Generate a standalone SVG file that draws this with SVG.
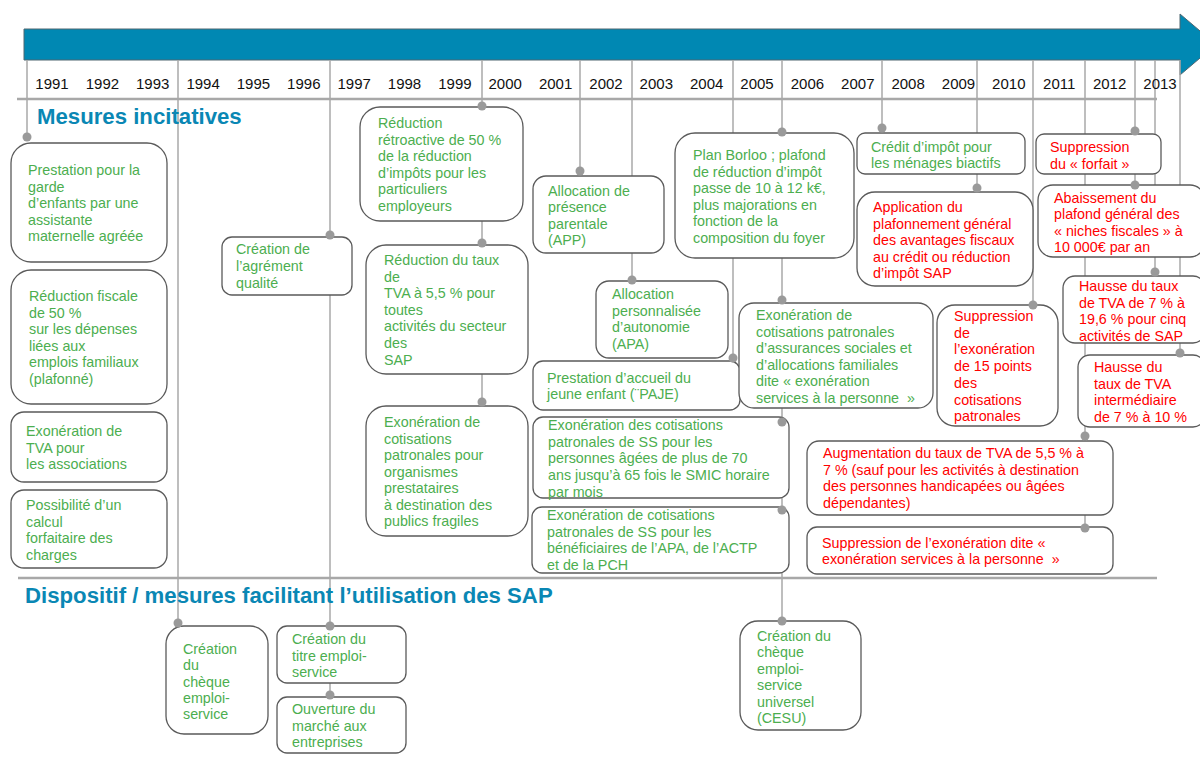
<svg xmlns="http://www.w3.org/2000/svg" width="1200" height="771" viewBox="0 0 1200 771">
<style>
.box{fill:#fff;stroke:#5a5a5a;stroke-width:1.3}
.t{font-family:"Liberation Sans",Arial,sans-serif;font-size:14.3px}
.g{fill:#4cae4f}
.r{fill:#ff0000}
.conn{stroke:#a8a8a8;stroke-width:1.5;fill:none}
.sep{stroke:#a8a8a8;stroke-width:2.5;fill:none}
.dot{fill:#9a9a9a}
.yr{font-family:"Liberation Sans",Arial,sans-serif;font-size:15px;fill:#111;text-anchor:middle}
.hd{font-family:"Liberation Sans",Arial,sans-serif;font-size:22.2px;font-weight:bold;fill:#0a87b4}
</style>
<rect width="1200" height="771" fill="#fff"/>
<g id="timeline-arrow">
<polygon points="24,29 1180,29 1180,14 1216,44.5 1180,75 1180,60 24,60" fill="#0088b3" stroke="#4f6670" stroke-width="1"/>
</g>
<g id="connectors">
<line class="conn" x1="27" y1="60" x2="27" y2="137"/>
<line class="conn" x1="178" y1="60" x2="178" y2="623"/>
<line class="conn" x1="330" y1="60" x2="330" y2="695"/>
<line class="conn" x1="482" y1="60" x2="482" y2="402"/>
<line class="conn" x1="580" y1="60" x2="580" y2="171"/>
<line class="conn" x1="632" y1="60" x2="632" y2="280"/>
<line class="conn" x1="733" y1="60" x2="733" y2="358"/>
<line class="conn" x1="782" y1="60" x2="782" y2="621"/>
<line class="conn" x1="882" y1="60" x2="882" y2="128"/>
<line class="conn" x1="977" y1="60" x2="977" y2="188"/>
<line class="conn" x1="1033" y1="60" x2="1033" y2="305"/>
<line class="conn" x1="1085" y1="60" x2="1085" y2="528"/>
<line class="conn" x1="1135" y1="60" x2="1135" y2="185"/>
<line class="conn" x1="1155" y1="60" x2="1155" y2="272"/>
<line class="conn" x1="1180" y1="60" x2="1180" y2="353"/>
<line class="sep" x1="17" y1="99" x2="1157" y2="99"/>
<line class="sep" x1="18" y1="578" x2="1157" y2="578"/>
</g>
<g id="years">
<text class="yr" x="52" y="89">1991</text>
<text class="yr" x="102.4" y="89">1992</text>
<text class="yr" x="152.7" y="89">1993</text>
<text class="yr" x="203.1" y="89">1994</text>
<text class="yr" x="253.4" y="89">1995</text>
<text class="yr" x="303.8" y="89">1996</text>
<text class="yr" x="354.2" y="89">1997</text>
<text class="yr" x="404.5" y="89">1998</text>
<text class="yr" x="454.9" y="89">1999</text>
<text class="yr" x="505.2" y="89">2000</text>
<text class="yr" x="555.6" y="89">2001</text>
<text class="yr" x="606" y="89">2002</text>
<text class="yr" x="656.3" y="89">2003</text>
<text class="yr" x="706.7" y="89">2004</text>
<text class="yr" x="757" y="89">2005</text>
<text class="yr" x="807.4" y="89">2006</text>
<text class="yr" x="857.8" y="89">2007</text>
<text class="yr" x="908.1" y="89">2008</text>
<text class="yr" x="958.5" y="89">2009</text>
<text class="yr" x="1008.8" y="89">2010</text>
<text class="yr" x="1059.2" y="89">2011</text>
<text class="yr" x="1109.6" y="89">2012</text>
<text class="yr" x="1160" y="89">2013</text>
</g>
<g id="headings">
<text class="hd" x="37" y="124">Mesures incitatives</text>
<text class="hd" x="25" y="603">Dispositif / mesures facilitant l’utilisation des SAP</text>
</g>
<g id="n-prestation-garde"><rect class="box" x="11" y="143" width="156" height="119" rx="20"/>
<text class="t g" y="175"><tspan x="28">Prestation pour la</tspan><tspan x="28" dy="16.5">garde</tspan><tspan x="28" dy="16.5">d’enfants par une</tspan><tspan x="28" dy="16.5">assistante</tspan><tspan x="28" dy="16.5">maternelle agréée</tspan></text></g>
<g id="n-reduction-fiscale"><rect class="box" x="11" y="270" width="156" height="134" rx="20"/>
<text class="t g" y="301"><tspan x="29">Réduction fiscale</tspan><tspan x="29" dy="16.6">de 50 %</tspan><tspan x="29" dy="16.6">sur les dépenses</tspan><tspan x="29" dy="16.6">liées aux</tspan><tspan x="29" dy="16.6">emplois familiaux</tspan><tspan x="29" dy="16.6">(plafonné)</tspan></text></g>
<g id="n-exo-tva-assoc"><rect class="box" x="11" y="412" width="156" height="70" rx="13"/>
<text class="t g" y="436"><tspan x="26">Exonération de</tspan><tspan x="26" dy="16.6">TVA pour</tspan><tspan x="26" dy="16.6">les associations</tspan></text></g>
<g id="n-forfait-charges"><rect class="box" x="11" y="490" width="156" height="78" rx="13"/>
<text class="t g" y="510"><tspan x="26">Possibilité d’un</tspan><tspan x="26" dy="16.5">calcul</tspan><tspan x="26" dy="16.5">forfaitaire des</tspan><tspan x="26" dy="16.5">charges</tspan></text></g>
<g id="n-agrement"><rect class="box" x="222" y="237" width="130" height="58" rx="10"/>
<text class="t g" y="254"><tspan x="236">Création de</tspan><tspan x="236" dy="17">l’agrément</tspan><tspan x="236" dy="17">qualité</tspan></text></g>
<g id="n-reduc-retro"><rect class="box" x="360" y="107" width="163" height="114" rx="20"/>
<text class="t g" y="128"><tspan x="378">Réduction</tspan><tspan x="378" dy="16.5">rétroactive de 50 %</tspan><tspan x="378" dy="16.5">de la réduction</tspan><tspan x="378" dy="16.5">d’impôts pour les</tspan><tspan x="378" dy="16.5">particuliers</tspan><tspan x="378" dy="16.5">employeurs</tspan></text></g>
<g id="n-reduc-tva"><rect class="box" x="366" y="245" width="162" height="129" rx="20"/>
<text class="t g" y="265"><tspan x="384">Réduction du taux</tspan><tspan x="384" dy="16.6">de</tspan><tspan x="384" dy="16.6">TVA à 5,5 % pour</tspan><tspan x="384" dy="16.6">toutes</tspan><tspan x="384" dy="16.6">activités du secteur</tspan><tspan x="384" dy="16.6">des</tspan><tspan x="384" dy="16.6">SAP</tspan></text></g>
<g id="n-exo-organismes"><rect class="box" x="366" y="406" width="162" height="130" rx="20"/>
<text class="t g" y="427"><tspan x="384">Exonération de</tspan><tspan x="384" dy="16.5">cotisations</tspan><tspan x="384" dy="16.5">patronales pour</tspan><tspan x="384" dy="16.5">organismes</tspan><tspan x="384" dy="16.5">prestataires</tspan><tspan x="384" dy="16.5">à destination des</tspan><tspan x="384" dy="16.5">publics fragiles</tspan></text></g>
<g id="n-app"><rect class="box" x="533" y="176" width="131" height="77" rx="13"/>
<text class="t g" y="196"><tspan x="548">Allocation de</tspan><tspan x="548" dy="16.4">présence</tspan><tspan x="548" dy="16.4">parentale</tspan><tspan x="548" dy="16.4">(APP)</tspan></text></g>
<g id="n-apa"><rect class="box" x="596" y="281" width="132" height="77" rx="13"/>
<text class="t g" y="299"><tspan x="612">Allocation</tspan><tspan x="612" dy="16.6">personnalisée</tspan><tspan x="612" dy="16.6">d’autonomie</tspan><tspan x="612" dy="16.6">(APA)</tspan></text></g>
<g id="n-paje"><rect class="box" x="533" y="361" width="207" height="49" rx="10"/>
<text class="t g" y="383"><tspan x="547">Prestation d’accueil du</tspan><tspan x="547" dy="16">jeune enfant (¨PAJE)</tspan></text></g>
<g id="n-exo-agees"><rect class="box" x="533" y="417" width="256" height="81" rx="10"/>
<text class="t g" y="430"><tspan x="548">Exonération des cotisations</tspan><tspan x="548" dy="16.7">patronales de SS pour les</tspan><tspan x="548" dy="16.7">personnes âgées de plus de 70</tspan><tspan x="548" dy="16.7">ans jusqu’à 65 fois le SMIC horaire</tspan><tspan x="548" dy="16.7">par mois</tspan></text></g>
<g id="n-exo-apa"><rect class="box" x="532" y="507" width="257" height="66" rx="10"/>
<text class="t g" y="520"><tspan x="547">Exonération de cotisations</tspan><tspan x="547" dy="16.7">patronales de SS pour les</tspan><tspan x="547" dy="16.7">bénéficiaires de l’APA, de l’ACTP</tspan><tspan x="547" dy="16.7">et de la PCH</tspan></text></g>
<g id="n-borloo"><rect class="box" x="675" y="133" width="179" height="125" rx="20"/>
<text class="t g" y="160"><tspan x="693">Plan Borloo ; plafond</tspan><tspan x="693" dy="16.5">de réduction d’impôt</tspan><tspan x="693" dy="16.5">passe de 10 à 12 k€,</tspan><tspan x="693" dy="16.5">plus majorations en</tspan><tspan x="693" dy="16.5">fonction de la</tspan><tspan x="693" dy="16.5">composition du foyer</tspan></text></g>
<g id="n-exo-sap"><rect class="box" x="739" y="303" width="194" height="105" rx="15"/>
<text class="t g" y="320"><tspan x="756">Exonération de</tspan><tspan x="756" dy="16.5">cotisations patronales</tspan><tspan x="756" dy="16.5">d’assurances sociales et</tspan><tspan x="756" dy="16.5">d’allocations familiales</tspan><tspan x="756" dy="16.5">dite « exonération</tspan><tspan x="756" dy="16.5">services à la personne&#160; »</tspan></text></g>
<g id="n-credit-biactifs"><rect class="box" x="857" y="133" width="168" height="41" rx="8"/>
<text class="t g" y="152"><tspan x="871">Crédit d’impôt pour</tspan><tspan x="871" dy="15.6">les ménages biactifs</tspan></text></g>
<g id="n-plafonnement"><rect class="box" x="857" y="192" width="176" height="94" rx="18"/>
<text class="t r" y="212"><tspan x="873">Application du</tspan><tspan x="873" dy="16.6">plafonnement général</tspan><tspan x="873" dy="16.6">des avantages fiscaux</tspan><tspan x="873" dy="16.6">au crédit ou réduction</tspan><tspan x="873" dy="16.6">d’impôt SAP</tspan></text></g>
<g id="n-suppr-15pts"><rect class="box" x="937" y="305" width="121" height="121" rx="18"/>
<text class="t r" y="321"><tspan x="954">Suppression</tspan><tspan x="954" dy="16.7">de</tspan><tspan x="954" dy="16.7">l’exonération</tspan><tspan x="954" dy="16.7">de 15 points</tspan><tspan x="954" dy="16.7">des</tspan><tspan x="954" dy="16.7">cotisations</tspan><tspan x="954" dy="16.7">patronales</tspan></text></g>
<g id="n-suppr-forfait"><rect class="box" x="1036" y="134" width="125" height="40" rx="8"/>
<text class="t r" y="152"><tspan x="1050">Suppression</tspan><tspan x="1050" dy="16.6">du « forfait »</tspan></text></g>
<g id="n-abaissement"><rect class="box" x="1038" y="185" width="167" height="72" rx="15"/>
<text class="t r" y="203"><tspan x="1054">Abaissement du</tspan><tspan x="1054" dy="16.3">plafond général des</tspan><tspan x="1054" dy="16.3">« niches fiscales » à</tspan><tspan x="1054" dy="16.3">10 000€ par an</tspan></text></g>
<g id="n-hausse-196"><rect class="box" x="1063" y="276" width="142" height="67" rx="12"/>
<text class="t r" y="291"><tspan x="1079">Hausse du taux</tspan><tspan x="1079" dy="16.7">de TVA de 7 % à</tspan><tspan x="1079" dy="16.7">19,6 % pour cinq</tspan><tspan x="1079" dy="16.7">activités de SAP</tspan></text></g>
<g id="n-hausse-inter"><rect class="box" x="1078" y="355" width="127" height="72" rx="12"/>
<text class="t r" y="372"><tspan x="1094">Hausse du</tspan><tspan x="1094" dy="16.7">taux de TVA</tspan><tspan x="1094" dy="16.7">intermédiaire</tspan><tspan x="1094" dy="16.7">de 7 % à 10 %</tspan></text></g>
<g id="n-augmentation"><rect class="box" x="807" y="441" width="306" height="74" rx="12"/>
<text class="t r" y="458"><tspan x="823">Augmentation du taux de TVA de 5,5 % à</tspan><tspan x="823" dy="16.7">7 % (sauf pour les activités à destination</tspan><tspan x="823" dy="16.7">des personnes handicapées ou âgées</tspan><tspan x="823" dy="16.7">dépendantes)</tspan></text></g>
<g id="n-suppr-exo-sap"><rect class="box" x="807" y="527" width="306" height="47" rx="10"/>
<text class="t r" y="548"><tspan x="822">Suppression de l’exonération dite «</tspan><tspan x="822" dy="16">exonération services à la personne&#160; »</tspan></text></g>
<g id="n-cheque"><rect class="box" x="166" y="626" width="102" height="108" rx="18"/>
<text class="t g" y="654"><tspan x="183">Création</tspan><tspan x="183" dy="16.3">du</tspan><tspan x="183" dy="16.3">chèque</tspan><tspan x="183" dy="16.3">emploi-</tspan><tspan x="183" dy="16.3">service</tspan></text></g>
<g id="n-titre"><rect class="box" x="277" y="626" width="129" height="57" rx="10"/>
<text class="t g" y="644"><tspan x="292">Création du</tspan><tspan x="292" dy="16.5">titre emploi-</tspan><tspan x="292" dy="16.5">service</tspan></text></g>
<g id="n-ouverture"><rect class="box" x="277" y="697" width="129" height="56" rx="10"/>
<text class="t g" y="714"><tspan x="292">Ouverture du</tspan><tspan x="292" dy="16.7">marché aux</tspan><tspan x="292" dy="16.7">entreprises</tspan></text></g>
<g id="n-cesu"><rect class="box" x="740" y="621" width="121" height="109" rx="18"/>
<text class="t g" y="641"><tspan x="757">Création du</tspan><tspan x="757" dy="16.4">chèque</tspan><tspan x="757" dy="16.4">emploi-</tspan><tspan x="757" dy="16.4">service</tspan><tspan x="757" dy="16.4">universel</tspan><tspan x="757" dy="16.4">(CESU)</tspan></text></g>
<g id="connector-anchors">
<circle class="dot" cx="27" cy="137" r="4.5"/>
<circle class="dot" cx="178" cy="623" r="4.5"/>
<circle class="dot" cx="330" cy="235" r="4.5"/>
<circle class="dot" cx="330" cy="626" r="4.5"/>
<circle class="dot" cx="330" cy="695" r="4.5"/>
<circle class="dot" cx="482" cy="106" r="4.5"/>
<circle class="dot" cx="482" cy="243" r="4.5"/>
<circle class="dot" cx="482" cy="402" r="4.5"/>
<circle class="dot" cx="580" cy="171" r="4.5"/>
<circle class="dot" cx="632" cy="280" r="4.5"/>
<circle class="dot" cx="733" cy="358" r="4.5"/>
<circle class="dot" cx="782" cy="132" r="4.5"/>
<circle class="dot" cx="782" cy="300" r="4.5"/>
<circle class="dot" cx="782" cy="422" r="4.5"/>
<circle class="dot" cx="782" cy="510" r="4.5"/>
<circle class="dot" cx="782" cy="621" r="4.5"/>
<circle class="dot" cx="882" cy="128" r="4.5"/>
<circle class="dot" cx="977" cy="188" r="4.5"/>
<circle class="dot" cx="1033" cy="305" r="4.5"/>
<circle class="dot" cx="1085" cy="436" r="4.5"/>
<circle class="dot" cx="1085" cy="528" r="4.5"/>
<circle class="dot" cx="1135" cy="131" r="4.5"/>
<circle class="dot" cx="1135" cy="185" r="4.5"/>
<circle class="dot" cx="1155" cy="272" r="4.5"/>
<circle class="dot" cx="1180" cy="353" r="4.5"/>
</g>
</svg>
